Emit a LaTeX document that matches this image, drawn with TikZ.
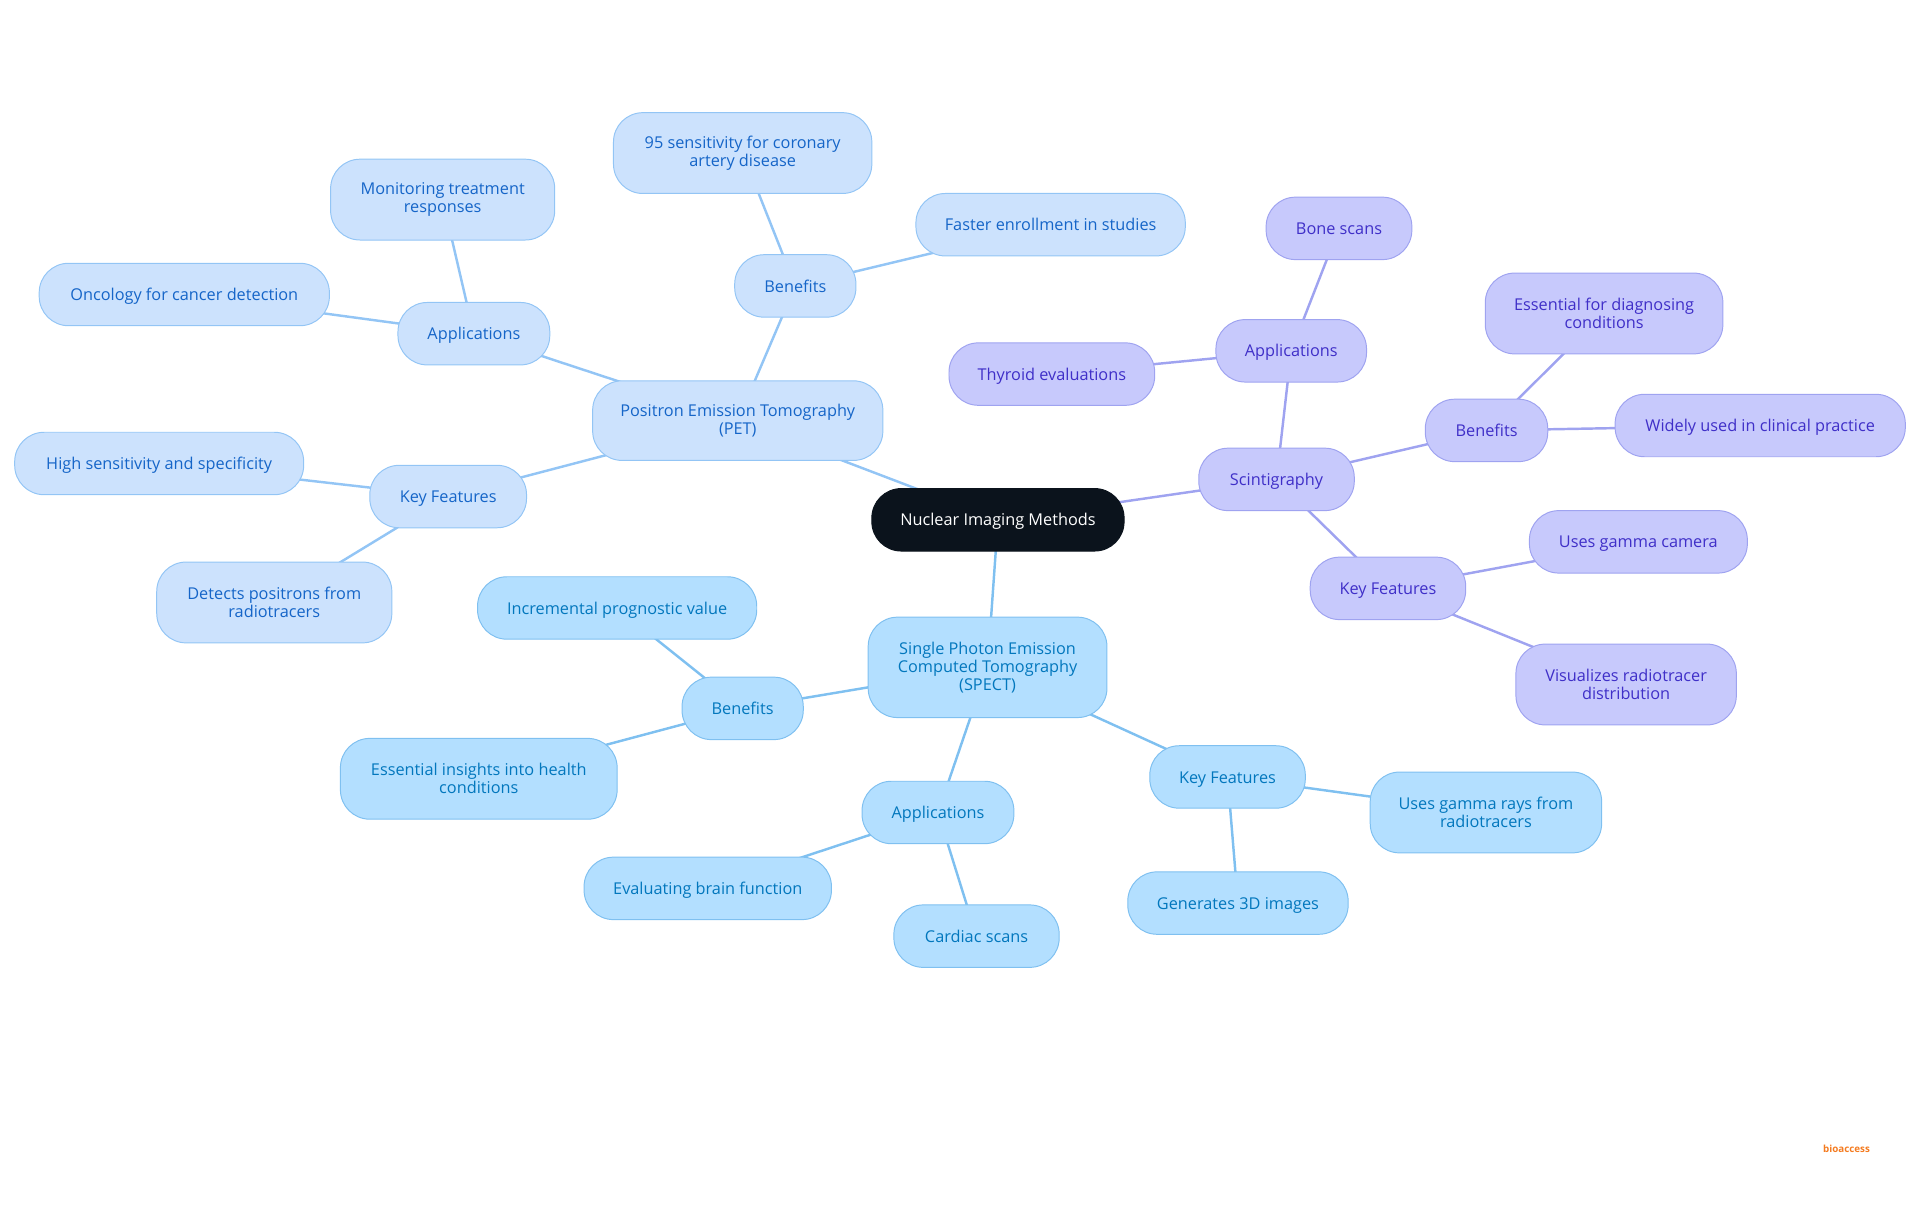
\documentclass[tikz,border=0pt]{standalone}
\usepackage{fontspec}
\setmainfont{Open Sans}
\usetikzlibrary{backgrounds}
\definecolor{rootfill}{HTML}{0B131C}
\definecolor{petfill}{HTML}{CCE2FD}
\definecolor{petline}{HTML}{93C5F5}
\definecolor{pettext}{HTML}{1565C8}
\definecolor{spectfill}{HTML}{B3DFFF}
\definecolor{spectline}{HTML}{7FC0F0}
\definecolor{specttext}{HTML}{0277BD}
\definecolor{scintfill}{HTML}{C7C9FC}
\definecolor{scintline}{HTML}{9FA3F0}
\definecolor{scinttext}{HTML}{3F2FC8}
\definecolor{logoorange}{HTML}{F47B20}
\tikzset{
	mindnode/.style={draw, rounded corners=12pt, line width=0.4pt, align=center, inner sep=0pt, minimum height=25.5pt, text height=5.5pt, text depth=0.5pt, font=\fontsize{6.65}{7.3}\selectfont},
	manyline/.style={text height={}, text depth={}},
	rootnode/.style={mindnode, fill=rootfill, draw=rootfill, text=white},
	petnode/.style={mindnode, fill=petfill, draw=petline, text=pettext},
	spectnode/.style={mindnode, fill=spectfill, draw=spectline, text=specttext},
	scintnode/.style={mindnode, fill=scintfill, draw=scintline, text=scinttext},
	petedge/.style={petline, line width=1pt},
	spectedge/.style={spectline, line width=1pt},
	scintedge/.style={scintline, line width=1pt},
}
\begin{document}
\begin{tikzpicture}[x=0.5pt, y=-0.5pt]
	\useasboundingbox (0,0) rectangle (1568,992);
	% Centre
	\node[rootnode, minimum width=103pt] (root) at (815,424.5) {Nuclear Imaging Methods};

	% PET
	\node[petnode, manyline, minimum width=118.5pt, minimum height=32.5pt] (pet) at (602.5,343.5) {Positron Emission Tomography\\(PET)};
	\node[petnode, minimum width=49.5pt] (petben) at (649.5,233.5) {Benefits};
	\node[petnode, manyline, minimum width=105.5pt, minimum height=33pt] (petsens) at (606.5,125) {95 sensitivity for coronary\\artery disease};
	\node[petnode, minimum width=110pt] (petfast) at (858,183.5) {Faster enrollment in studies};
	\node[petnode, minimum width=62pt] (petapp) at (387,272.5) {Applications};
	\node[petnode, manyline, minimum width=91.5pt, minimum height=33pt] (petmon) at (361.5,163) {Monitoring treatment\\responses};
	\node[petnode, minimum width=118.5pt] (petonc) at (150.5,240.5) {Oncology for cancer detection};
	\node[petnode, minimum width=64pt] (petkey) at (366,405.5) {Key Features};
	\node[petnode, minimum width=118pt] (pethigh) at (130,378.5) {High sensitivity and specificity};
	\node[petnode, manyline, minimum width=96pt, minimum height=33pt] (petdet) at (224,492) {Detects positrons from\\radiotracers};

	% SPECT
	\node[spectnode, manyline, minimum width=97.5pt, minimum height=41pt] (spect) at (806.5,545) {Single Photon Emission\\Computed Tomography\\(SPECT)};
	\node[spectnode, minimum width=49.5pt] (spben) at (606.5,578.5) {Benefits};
	\node[spectnode, minimum width=114pt] (spinc) at (504,496.5) {Incremental prognostic value};
	\node[spectnode, manyline, minimum width=113pt, minimum height=33pt] (spess) at (391,636) {Essential insights into health\\conditions};
	\node[spectnode, minimum width=62pt] (spapp) at (766,663.5) {Applications};
	\node[spectnode, minimum width=101pt] (speval) at (578,725.5) {Evaluating brain function};
	\node[spectnode, minimum width=67.5pt] (spcard) at (797.5,764.5) {Cardiac scans};
	\node[spectnode, minimum width=63.5pt] (spkey) at (1002.5,634.5) {Key Features};
	\node[spectnode, manyline, minimum width=94.5pt, minimum height=33pt] (spray) at (1213.5,663.5) {Uses gamma rays from\\radiotracers};
	\node[spectnode, minimum width=90pt] (spgen) at (1011,737.5) {Generates 3D images};

	% Scintigraphy
	\node[scintnode, minimum width=63.5pt] (scint) at (1042.5,391.5) {Scintigraphy};
	\node[scintnode, minimum width=61.5pt] (scapp) at (1054.5,286.5) {Applications};
	\node[scintnode, minimum width=59.5pt] (scbone) at (1093.5,186.5) {Bone scans};
	\node[scintnode, minimum width=84pt] (scthy) at (859,305.5) {Thyroid evaluations};
	\node[scintnode, minimum width=50pt] (scben) at (1214,351.5) {Benefits};
	\node[scintnode, manyline, minimum width=97pt, minimum height=33pt] (scess) at (1310,256) {Essential for diagnosing\\conditions};
	\node[scintnode, minimum width=118.5pt] (scwide) at (1437.5,347.5) {Widely used in clinical practice};
	\node[scintnode, minimum width=63.5pt] (sckey) at (1133.5,480.5) {Key Features};
	\node[scintnode, minimum width=89pt] (scgam) at (1338,442.5) {Uses gamma camera};
	\node[scintnode, manyline, minimum width=90pt, minimum height=33pt] (scvis) at (1328,559) {Visualizes radiotracer\\distribution};

	\node[text=logoorange, inner sep=0pt, font=\fontsize{4}{4.5}\bfseries\selectfont] (logo) at (1508,938) {bioaccess};

	\begin{pgfonlayer}{background}
		\draw[petedge] (root.center) -- (pet.center);
		\draw[petedge] (pet.center) -- (petben.center);
		\draw[petedge] (petben.center) -- (petsens.center);
		\draw[petedge] (petben.center) -- (petfast.center);
		\draw[petedge] (pet.center) -- (petapp.center);
		\draw[petedge] (petapp.center) -- (petmon.center);
		\draw[petedge] (petapp.center) -- (petonc.center);
		\draw[petedge] (pet.center) -- (petkey.center);
		\draw[petedge] (petkey.center) -- (pethigh.center);
		\draw[petedge] (petkey.center) -- (petdet.center);

		\draw[spectedge] (root.center) -- (spect.center);
		\draw[spectedge] (spect.center) -- (spben.center);
		\draw[spectedge] (spben.center) -- (spinc.center);
		\draw[spectedge] (spben.center) -- (spess.center);
		\draw[spectedge] (spect.center) -- (spapp.center);
		\draw[spectedge] (spapp.center) -- (speval.center);
		\draw[spectedge] (spapp.center) -- (spcard.center);
		\draw[spectedge] (spect.center) -- (spkey.center);
		\draw[spectedge] (spkey.center) -- (spray.center);
		\draw[spectedge] (spkey.center) -- (spgen.center);

		\draw[scintedge] (root.center) -- (scint.center);
		\draw[scintedge] (scint.center) -- (scapp.center);
		\draw[scintedge] (scapp.center) -- (scbone.center);
		\draw[scintedge] (scapp.center) -- (scthy.center);
		\draw[scintedge] (scint.center) -- (scben.center);
		\draw[scintedge] (scben.center) -- (scess.center);
		\draw[scintedge] (scben.center) -- (scwide.center);
		\draw[scintedge] (scint.center) -- (sckey.center);
		\draw[scintedge] (sckey.center) -- (scgam.center);
		\draw[scintedge] (sckey.center) -- (scvis.center);
	\end{pgfonlayer}
\end{tikzpicture}
\end{document}
